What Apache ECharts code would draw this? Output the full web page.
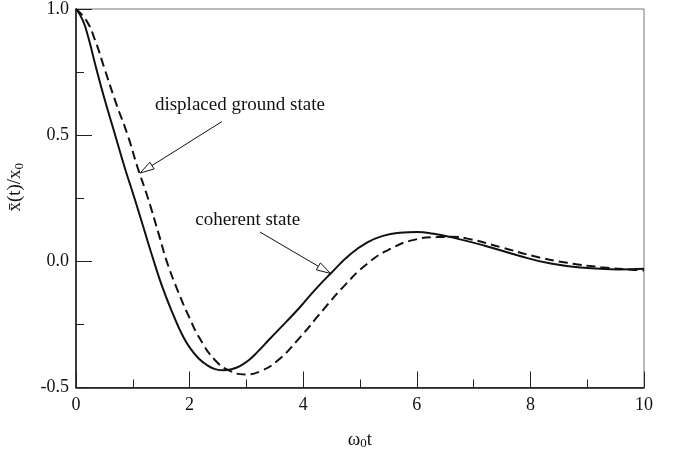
<!DOCTYPE html>
<html>
<head>
<meta charset="utf-8">
<script src="https://cdn.jsdelivr.net/npm/echarts@6/dist/echarts.min.js"></script>
<style>
html,body{margin:0;padding:0;background:#fff;}
#c{width:678px;height:451px;}
</style>
</head>
<body>
<div id="c"></div>
<script>
// Coherent state (solid)
const tCoherent = [0,0.12,0.22,0.35,0.5,0.69,0.86,1.03,1.2,1.35,1.51,1.7,1.89,2.03,2.16,2.3,2.45,2.6,2.75,2.9,3.05,3.2,3.41,3.7,3.95,4.2,4.48,4.83,5.13,5.42,5.7,6.01,6.3,6.6,7.18,7.77,8.36,8.95,9.54,10];
const yCoherent = [1.0,0.955,0.885,0.77,0.645,0.5,0.37,0.25,0.125,0.015,-0.095,-0.205,-0.3,-0.35,-0.385,-0.41,-0.427,-0.432,-0.427,-0.413,-0.39,-0.358,-0.308,-0.24,-0.18,-0.115,-0.049,0.028,0.075,0.102,0.113,0.116,0.109,0.096,0.063,0.024,-0.009,-0.025,-0.032,-0.029];
// Displaced ground state (dashed)
const tDisplaced = [0,0.18,0.33,0.5,0.7,0.91,1.08,1.26,1.48,1.59,1.78,2.0,2.19,2.45,2.7,2.98,3.25,3.54,3.89,4.36,4.71,5.13,5.54,5.95,6.36,6.6,6.89,7.48,8.07,8.65,9.24,9.83,10];
const yDisplaced = [1.0,0.955,0.88,0.765,0.63,0.5,0.375,0.255,0.09,0.005,-0.11,-0.225,-0.31,-0.392,-0.433,-0.448,-0.435,-0.395,-0.315,-0.19,-0.1,-0.009,0.05,0.085,0.096,0.097,0.09,0.056,0.02,-0.006,-0.023,-0.034,-0.036];
const seriesNames = ['coherent state','displaced ground state'];
const xTickLabels = ['0','2','4','6','8','10'];
const yTickLabels = ['-0.5','0.0','0.5','1.0'];

const FONT = '"Liberation Serif","DejaVu Serif",serif';
const chart = echarts.init(document.getElementById('c'), null, {renderer:'canvas'});

function pairs(ts, ys){ return ts.map((t,i)=>[t, ys[i]]); }

const richName = {
  a:{fontFamily:FONT,fontSize:19,color:'#111',lineHeight:21},
  s:{fontFamily:FONT,fontSize:13,color:'#111',verticalAlign:'bottom',lineHeight:14,padding:[7,0,0,0]}
};

chart.setOption({
  animation:false,
  backgroundColor:'#fff',
  grid:{left:76,right:34,top:9,bottom:63.5,containLabel:false,outerBoundsMode:'none',show:true,borderColor:'#777',borderWidth:1,backgroundColor:'transparent'},
  xAxis:{
    type:'value',min:0,max:10,interval:2,
    name:'{a|ω}{s|0}{a|t}',nameLocation:'middle',nameGap:42,
    nameTextStyle:{rich:richName},
    axisLine:{show:true,onZero:false,lineStyle:{color:'#111',width:1.5}},
    axisTick:{show:true,inside:true,length:16,lineStyle:{color:'#222',width:1}},
    minorTick:{show:true,splitNumber:2,length:8,lineStyle:{color:'#222',width:1}},
    splitLine:{show:false},
    axisLabel:{margin:9,fontFamily:FONT,fontSize:18,color:'#111',
      formatter:function(v){const i=xTickLabels.indexOf(String(v));return i>=0?xTickLabels[i]:'';}}
  },
  yAxis:{
    type:'value',min:-0.5,max:1.0,interval:0.5,
    name:'{a|x\u0304(t)/x}{s|0}',nameLocation:'middle',nameGap:50,nameRotate:90,
    nameTextStyle:{padding:[0,0,0,22],rich:richName},
    axisLine:{show:true,onZero:false,lineStyle:{color:'#111',width:1.5}},
    axisTick:{show:true,inside:true,length:16,lineStyle:{color:'#222',width:1}},
    minorTick:{show:true,splitNumber:2,length:8,lineStyle:{color:'#222',width:1}},
    splitLine:{show:false},
    axisLabel:{margin:7,fontFamily:FONT,fontSize:18,color:'#111',
      formatter:function(v){const s=v.toFixed(1);return yTickLabels.indexOf(s)>=0?s:'';}}
  },
  series:[
    {name:seriesNames[0],type:'line',data:pairs(tCoherent,yCoherent),smooth:0.5,showSymbol:false,
     lineStyle:{color:'#111',width:2}},
    {name:seriesNames[1],type:'line',data:pairs(tDisplaced,yDisplaced),smooth:0.5,showSymbol:false,
     lineStyle:{color:'#111',width:2,type:[9,5]}}
  ]
});

function arrowGraphic(from,to){
  const p1=chart.convertToPixel({gridIndex:0},from);
  const p2=chart.convertToPixel({gridIndex:0},to);
  const dx=p2[0]-p1[0], dy=p2[1]-p1[1], len=Math.sqrt(dx*dx+dy*dy);
  const ux=dx/len, uy=dy/len, L=14, W=4;
  const bx=p2[0]-ux*L, by=p2[1]-uy*L;
  return [
    {type:'line',shape:{x1:p1[0],y1:p1[1],x2:bx,y2:by},style:{stroke:'#111',lineWidth:1},z:10},
    {type:'polygon',shape:{points:[[p2[0],p2[1]],[bx-uy*W,by+ux*W],[bx+uy*W,by-ux*W]]},style:{fill:'#fff',stroke:'#111',lineWidth:1},z:10}
  ];
}
function textGraphic(str,at){
  const p=chart.convertToPixel({gridIndex:0},at);
  return {type:'text',x:p[0],y:p[1],style:{text:str,font:'19px '+FONT,fill:'#111',verticalAlign:'middle'},z:10};
}
const g=[];
g.push(textGraphic(seriesNames[1],[1.39,0.62]));
g.push(...arrowGraphic([2.57,0.554],[1.13,0.35]));
g.push(textGraphic(seriesNames[0],[2.1,0.162]));
g.push(...arrowGraphic([3.24,0.116],[4.48,-0.048]));
chart.setOption({graphic:g});
</script>
</body>
</html>
